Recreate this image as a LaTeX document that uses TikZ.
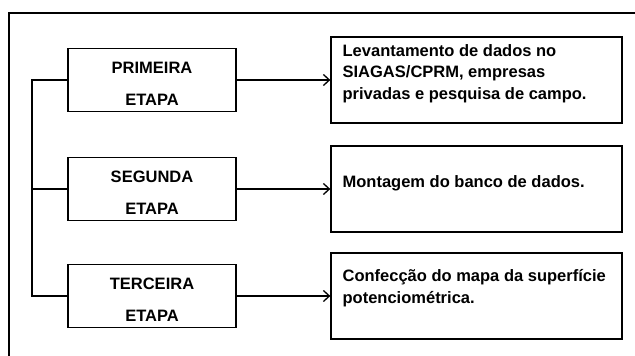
\documentclass[tikz,border=0pt]{standalone}
\usepackage{fontspec}
\setmainfont{Liberation Sans}
\usetikzlibrary{positioning, arrows.meta}

\begin{document}
\begin{tikzpicture}[x=1pt, y=-1pt, line width=1.3pt,
  etapa/.style={draw, minimum width=168pt, minimum height=63pt, align=center,
    text height=50pt, text depth=0pt,
    font=\fontsize{16.5}{32}\selectfont\bfseries},
  tarefa/.style={draw, minimum width=291pt, minimum height=86pt},
  texto/.style={anchor=base west, align=left, inner sep=0pt,
    font=\fontsize{16.5}{21.5}\selectfont\bfseries},
  seta/.style={-{Straight Barb[length=6pt, width=11pt]}}]
\useasboundingbox (0,0) rectangle (635,356);

% moldura
\draw (635,13) -- (9,13) -- (9,356);

% etapas
\node[etapa] (primeira) at (152,80) {PRIMEIRA\\ETAPA};
\node[etapa] (segunda) at (152,189) {SEGUNDA\\ETAPA};
\node[etapa] (terceira) at (152,296) {TERCEIRA\\ETAPA};

% tarefas (texto ancorado na ultima linha)
\node[tarefa] (levantamento) at (476.5,80) {};
\node[tarefa] (montagem) at (476.5,189) {};
\node[tarefa] (confeccao) at (476.5,296) {};
\node[texto] (txtlev) at (342,99) {Levantamento de dados no\\SIAGAS/CPRM, empresas\\privadas e pesquisa de campo.};
\node[texto] (txtmon) at (342,187) {Montagem do banco de dados.};
\node[texto] (txtcon) at (342,303) {Confecção do mapa da superfície\\potenciométrica.};

% ligacoes
\coordinate (barra) at (32,0);
\draw (primeira.west) -- (primeira.west -| barra) -- (terceira.west -| barra) -- (terceira.west);
\draw (segunda.west -| barra) -- (segunda.west);
\draw[seta] (primeira) -- (levantamento);
\draw[seta] (segunda) -- (montagem);
\draw[seta] (terceira) -- (confeccao);
\end{tikzpicture}
\end{document}
